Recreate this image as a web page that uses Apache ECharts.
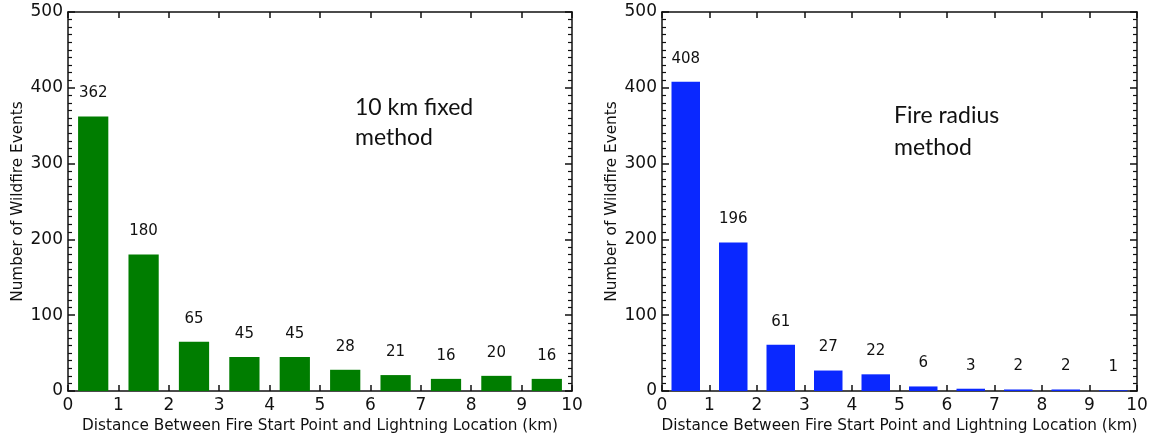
<!DOCTYPE html>
<html>
<head>
<meta charset="utf-8">
<script src="https://cdn.jsdelivr.net/npm/echarts@6/dist/echarts.min.js"></script>
<style>
html,body{margin:0;padding:0;background:#fff;}
#chart{width:1149px;height:436px;}
</style>
</head>
<body>
<div id="chart"></div>
<script>
// bin edges (km) of the histogram
const binStarts = [0, 1, 2, 3, 4, 5, 6, 7, 8, 9];
const fixedCounts = [362, 180, 65, 45, 45, 28, 21, 16, 20, 16];
const radiusCounts = [408, 196, 61, 27, 22, 6, 3, 2, 2, 1];
const xTicks = ['0','1','2','3','4','5','6','7','8','9','10'];
const yTicks = ['0','100','200','300','400','500'];
const xTitle = 'Distance Between Fire Start Point and Lightning Location (km)';
const yTitle = 'Number of Wildfire Events';
const leftNote = ['10 km fixed', 'method'];
const rightNote = ['Fire radius', 'method'];

const axisFont = 'DejaVu Sans';
const BAR_HALF = 0.3;

function makeData(counts) {
  return binStarts.map((s, i) => [s, s + 1, counts[i]]);
}

function renderBar(color) {
  return function (params, api) {
    const s = api.value(0), e = api.value(1), v = api.value(2);
    const c = (s + e) / 2;
    const p1 = api.coord([c - BAR_HALF, v]);
    const p2 = api.coord([c + BAR_HALF, 0]);
    const top = api.coord([c, v]);
    return {
      type: 'group',
      children: [
        { type: 'rect', shape: { x: p1[0], y: p1[1], width: p2[0] - p1[0], height: p2[1] - p1[1] },
          style: { fill: color } },
        { type: 'text', style: { text: String(v), x: top[0], y: top[1] - 23, align: 'center', verticalAlign: 'middle',
          font: '15px "' + axisFont + '"', fill: '#111' } }
      ]
    };
  };
}

const lineStyle = { color: '#111', width: 1.5 };

function xAxes(gi) {
  return [
    { gridIndex: gi, type: 'value', min: 0, max: 10, interval: 1, position: 'bottom',
      axisLine: { show: true, onZero: false, lineStyle },
      axisTick: { show: true, inside: true, length: 6, lineStyle },
      splitLine: { show: false },
      axisLabel: { margin: 6, color: '#111', fontSize: 17, fontFamily: axisFont,
        formatter: v => xTicks[Math.round(v)] },
      name: xTitle, nameLocation: 'middle', nameGap: 26,
      nameTextStyle: { fontSize: 15.3, fontFamily: axisFont, color: '#111' } },
    { gridIndex: gi, type: 'value', min: 0, max: 10, interval: 1, position: 'top',
      axisLine: { show: true, onZero: false, lineStyle },
      axisTick: { show: true, inside: true, length: 6, lineStyle },
      splitLine: { show: false }, axisLabel: { show: false } }
  ];
}
function yAxes(gi) {
  return [
    { gridIndex: gi, type: 'value', min: 0, max: 500, interval: 100, position: 'left',
      axisLine: { show: true, onZero: false, lineStyle },
      axisTick: { show: true, inside: true, length: 7, lineStyle },
      minorTick: { show: true, splitNumber: 10, length: 4, lineStyle: { color: '#111', width: 1.2 } },
      splitLine: { show: false },
      axisLabel: { margin: 5, color: '#111', fontSize: 17, fontFamily: axisFont,
        formatter: v => yTicks[Math.round(v / 100)] },
      name: yTitle, nameLocation: 'middle', nameGap: 42, nameRotate: 90,
      nameTextStyle: { fontSize: 15.3, fontFamily: axisFont, color: '#111' } },
    { gridIndex: gi, type: 'value', min: 0, max: 500, interval: 100, position: 'right',
      axisLine: { show: true, onZero: false, lineStyle },
      axisTick: { show: true, inside: true, length: 7, lineStyle },
      minorTick: { show: true, splitNumber: 10, length: 4, lineStyle: { color: '#111', width: 1.2 } },
      splitLine: { show: false }, axisLabel: { show: false } }
  ];
}

const chart = echarts.init(document.getElementById('chart'), null, { renderer: 'canvas' });
chart.setOption({
  backgroundColor: '#fff',
  animation: false,
  grid: [
    { left: 68, right: 1149 - 572, top: 12, bottom: 45, outerBoundsMode: 'none', containLabel: false },
    { left: 662, right: 1149 - 1137, top: 12, bottom: 45, outerBoundsMode: 'none', containLabel: false }
  ],
  xAxis: [...xAxes(0), ...xAxes(1)],
  yAxis: [...yAxes(0), ...yAxes(1)],
  series: [
    { type: 'custom', xAxisIndex: 0, yAxisIndex: 0, renderItem: renderBar('#007d00'),
      encode: { x: [0, 1], y: 2 }, data: makeData(fixedCounts) },
    { type: 'custom', xAxisIndex: 2, yAxisIndex: 2, renderItem: renderBar('#0a28ff'),
      encode: { x: [0, 1], y: 2 }, data: makeData(radiusCounts) }
  ],
  graphic: [
    { type: 'text', left: 355, top: 93, style: { text: leftNote.join('\n'), font: '23px Lato', lineHeight: 30, fill: '#111' } },
    { type: 'text', left: 894, top: 100, style: { text: rightNote.join('\n'), font: '23px Lato', lineHeight: 32, fill: '#111' } }
  ]
});
</script>
</body>
</html>
